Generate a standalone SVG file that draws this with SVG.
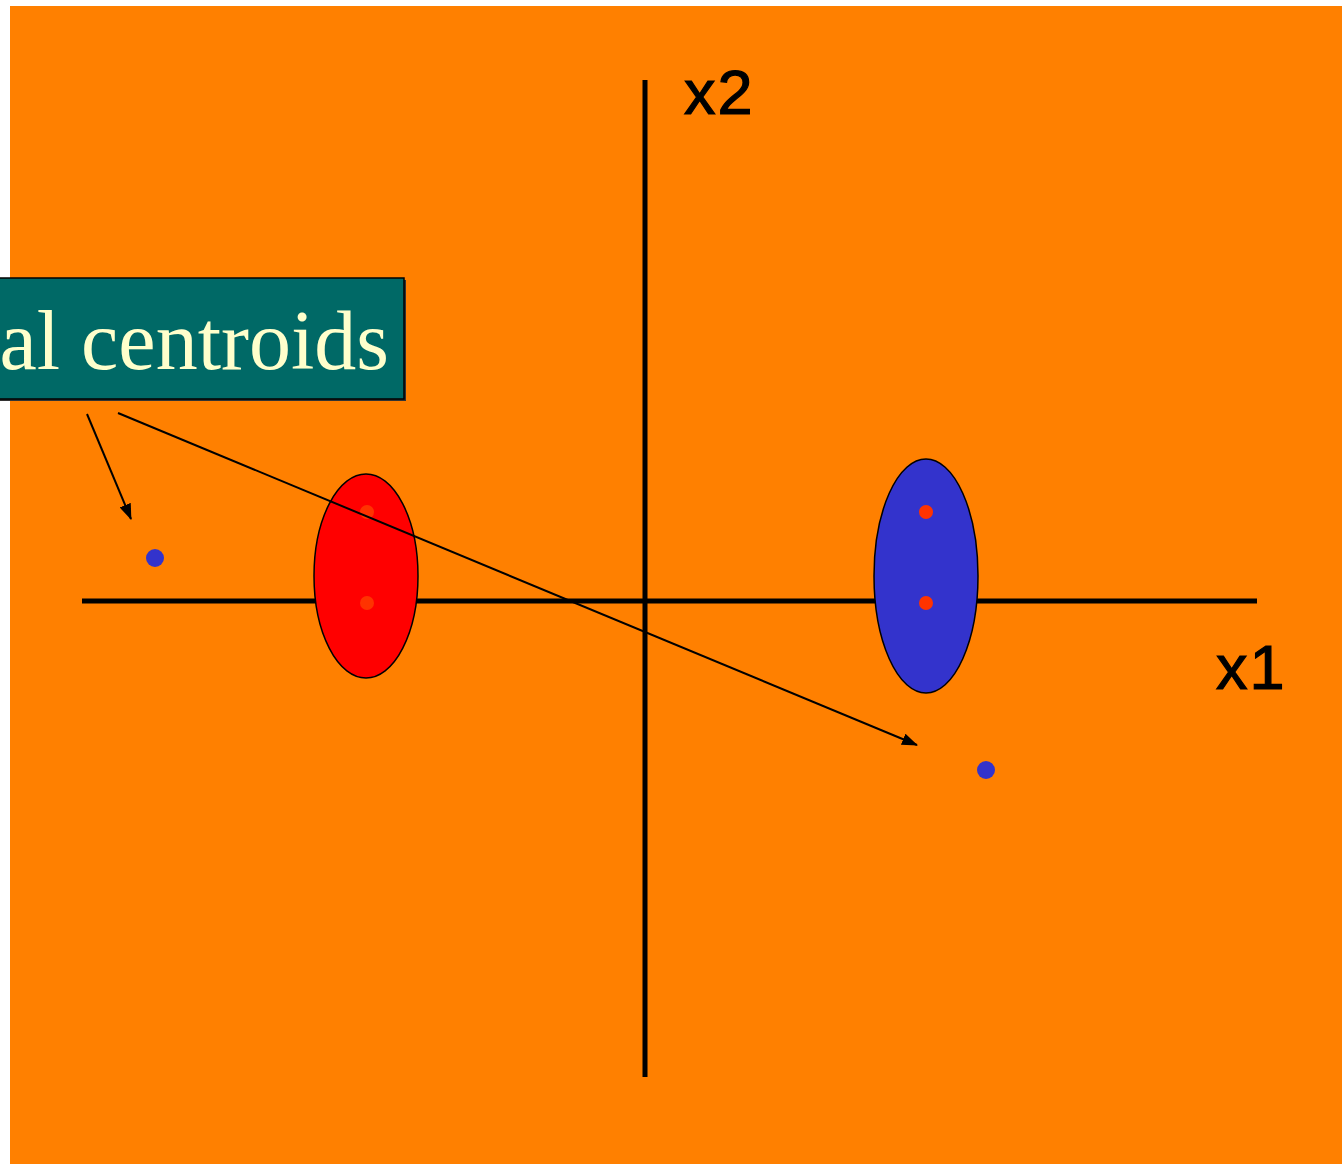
<svg xmlns="http://www.w3.org/2000/svg" width="1342" height="1164" viewBox="0 0 1342 1164">
<style>
.axis{stroke:#000;stroke-width:5;fill:none}
.conn{stroke:#000;stroke-width:2;fill:none;marker-end:url(#ah)}
.lbl{font-family:"Liberation Sans",Arial,sans-serif;font-size:63px;fill:#000;stroke:#000;stroke-width:1.2;letter-spacing:2px}
.cen{fill:#FF3300}
.pt{fill:#3333CC}
</style>
<defs>
<marker id="ah" viewBox="0 0 16 12" refX="15" refY="6" markerWidth="16" markerHeight="12" markerUnits="userSpaceOnUse" orient="auto"><path d="M0,0 L16,6 L0,12 z" fill="#000"/></marker>
</defs>
<rect x="0" y="0" width="1342" height="1164" fill="#fff"/>
<rect x="10" y="6" width="1332" height="1158" fill="#FF8000"/>
<g id="axes">
<line class="axis" x1="82" y1="601" x2="1257" y2="601"/>
<line class="axis" x1="645" y1="80" x2="645" y2="1077"/>
<text class="lbl" x="684" y="114">x2</text>
<text class="lbl" x="1216" y="689">x1</text>
</g>
<g id="red-cluster">
<ellipse cx="366" cy="576" rx="52" ry="102" fill="#FF0000" stroke="#000" stroke-width="1.5"/>
<circle class="cen" cx="367" cy="512" r="7"/>
<circle class="cen" cx="367" cy="603" r="7"/>
</g>
<g id="blue-cluster">
<ellipse cx="926" cy="576" rx="52" ry="117" fill="#3333CC" stroke="#000" stroke-width="1.5"/>
<circle class="cen" cx="926" cy="512" r="7"/>
<circle class="cen" cx="926" cy="603" r="7"/>
</g>
<g id="centroid-1"><circle class="pt" cx="155" cy="558" r="9"/></g>
<g id="centroid-2"><circle class="pt" cx="986" cy="770" r="9"/></g>
<g id="label">
<rect x="-4" y="280" width="410" height="121" fill="#333"/>
<rect x="-6" y="278" width="410" height="121" fill="#006966" stroke="#000" stroke-width="1.5"/>
<text x="389" y="369" text-anchor="end" font-family="'Liberation Serif','Times New Roman',serif" font-size="84" fill="#FFFFCC">al centroids</text>
</g>
<g id="connectors">
<line class="conn" x1="87" y1="414" x2="131" y2="519"/>
<line class="conn" x1="118" y1="413" x2="917" y2="745"/>
</g>
</svg>
